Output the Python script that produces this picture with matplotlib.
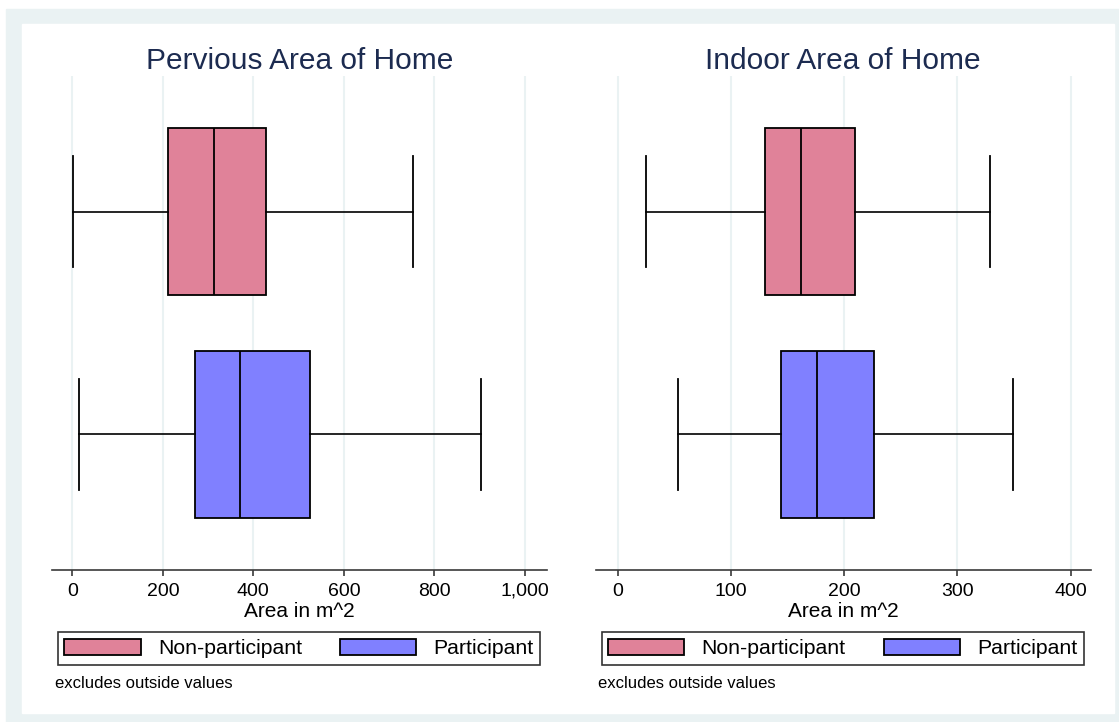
import matplotlib.pyplot as plt
from matplotlib.patches import Rectangle, Patch
from matplotlib.ticker import StrMethodFormatter

plt.rcParams['font.family'] = ['Liberation Sans', 'DejaVu Sans']

groups = ['Non-participant', 'Participant']
colors = ['#e08299', '#8080ff']

# box summaries: whisker low, q1, median, q3, whisker high
pervious_np = [2, 212, 314, 428, 752]
pervious_p = [14, 271, 371, 525, 904]
indoor_np = [25, 130, 162, 210, 329]
indoor_p = [53, 144, 176, 226, 349]

titles = ['Pervious Area of Home', 'Indoor Area of Home']
xlabel = 'Area in m^2'
note = 'excludes outside values'
ticks_left = [0, 200, 400, 600, 800, 1000]
ticks_right = [0, 100, 200, 300, 400]

W, H = 1119, 722
fig = plt.figure(figsize=(W / 100, H / 100), dpi=100)
fig.patch.set_facecolor('white')

# outer tinted frame and white plot region
fig.add_artist(Rectangle((6 / W, 0), (W - 6) / W, (H - 9) / H,
                         transform=fig.transFigure, color='#eaf2f3', zorder=-2))
fig.add_artist(Rectangle((21.5 / W, 9 / H), (1114 - 21.5) / W, (713 - 24) / H,
                         transform=fig.transFigure, color='white', zorder=-1))

grid_c = '#eaf2f3'
axis_c = '#3a3a3a'


def stats(v, label):
    return dict(whislo=v[0], q1=v[1], med=v[2], q3=v[3], whishi=v[4],
                fliers=[], label=label)


def draw_panel(px0, px1, data, title, ticks, xlim, fmt):
    ax = fig.add_axes([px0 / W, (H - 570) / H, (px1 - px0) / W, 494 / H])
    ax.set_facecolor('none')
    bp = ax.bxp([stats(d, g) for d, g in zip(data, groups)], positions=[2, 1],
                widths=0.75, capwidths=0.5, orientation='horizontal',
                patch_artist=True, showfliers=False,
                boxprops=dict(linewidth=1.3, edgecolor='black'),
                medianprops=dict(color='black', linewidth=1.3),
                whiskerprops=dict(color='black', linewidth=1.2),
                capprops=dict(color='black', linewidth=1.3))
    for box, c in zip(bp['boxes'], colors):
        box.set_facecolor(c)
    ax.set_ylim(0.39, 2.61)
    ax.set_xlim(*xlim)
    ax.set_xticks(ticks)
    ax.xaxis.set_major_formatter(StrMethodFormatter(fmt))
    ax.set_yticks([])
    for s in ['top', 'left', 'right']:
        ax.spines[s].set_visible(False)
    ax.spines['bottom'].set_color(axis_c)
    ax.spines['bottom'].set_linewidth(1.2)
    ax.tick_params(axis='x', length=4, width=1.2, color=axis_c,
                   labelsize=14, pad=5)
    ax.grid(axis='x', color=grid_c, linewidth=1.5, zorder=0)
    ax.set_axisbelow(True)
    ax.set_title(title, fontsize=21.5, color='#1c2b50', pad=5)
    ax.set_xlabel(xlabel, fontsize=15, labelpad=1.5)
    handles = [Patch(facecolor=c, edgecolor='black', linewidth=1.3) for c in colors]
    fw = px1 - px0
    leg = ax.legend(handles, groups, loc='center', ncol=2, mode='expand',
                    bbox_to_anchor=(6 / fw, -0.194, (fw - 13) / fw, 0.0705),
                    fontsize=15.3, handlelength=3.6, handleheight=0.85,
                    handletextpad=0.8, borderpad=0.3, borderaxespad=0,
                    fancybox=False, frameon=True)
    leg.get_frame().set_edgecolor('black')
    leg.get_frame().set_linewidth(1.2)
    ax.text(3 / fw, -0.229, note, transform=ax.transAxes, fontsize=12,
            ha='left', va='center')
    return ax


draw_panel(52, 547, [pervious_np, pervious_p], titles[0], ticks_left,
           (-45, 1049), '{x:,.0f}')
draw_panel(595.5, 1091, [indoor_np, indoor_p], titles[1], ticks_right,
           (-19.5, 418), '{x:,.0f}')

fig.savefig('out.png', dpi=100)
